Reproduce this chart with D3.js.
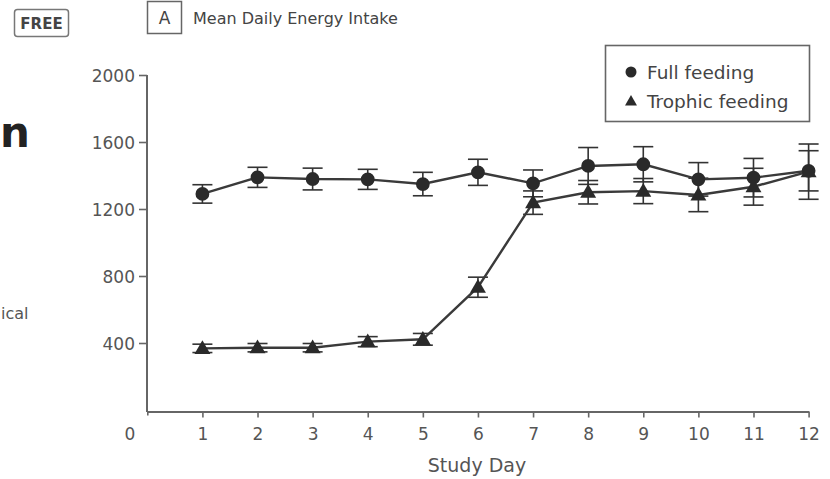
<!DOCTYPE html>
<html>
<head>
<meta charset="utf-8">
<script src="https://cdn.jsdelivr.net/npm/d3@7/dist/d3.min.js"></script>
<style>
  html, body { margin: 0; padding: 0; background: #fff; }
  svg { display: block; }
  text { font-family: "DejaVu Sans", "Liberation Sans", sans-serif; }
</style>
</head>
<body>
<svg id="chart" width="830" height="479"></svg>
<script>
// Study days and x tick values
const days = [1, 2, 3, 4, 5, 6, 7, 8, 9, 10, 11, 12];
const xTicks = [0, 1, 2, 3, 4, 5, 6, 7, 8, 9, 10, 11, 12];
const yTicks = [400, 800, 1200, 1600, 2000];

// Mean daily energy intake (kcal) and error (SEM) per study day
const fullMean    = [1290, 1389, 1379, 1377, 1349, 1419, 1353, 1457, 1467, 1377, 1387, 1428];
const fullErr     = [55, 60, 65, 60, 70, 78, 80, 110, 105, 100, 115, 120];
const trophicMean = [368, 372, 372, 408, 422, 733, 1238, 1300, 1307, 1284, 1333, 1423];
const trophicErr  = [25, 25, 25, 30, 35, 60, 70, 70, 75, 100, 110, 165];

const seriesNames = ["Full feeding", "Trophic feeding"];
const titleText = "Mean Daily Energy Intake";
const panelLetter = "A";
const xLabel = "Study Day";

const svg = d3.select("#chart");

const x = d3.scaleLinear().domain([0, 12]).range([147.3, 808.6]);
const y = d3.scaleLinear().domain([0, 2000]).range([410, 75]);

const axisColor = "#666";
const textColor = "#555";

// Page fragments around the figure
svg.append("rect").attr("x", 14.5).attr("y", 9.5).attr("width", 54).attr("height", 27)
  .attr("rx", 3).attr("fill", "#fff").attr("stroke", "#777").attr("stroke-width", 1.5);
svg.append("text").attr("x", 41.5).attr("y", 28.5).attr("text-anchor", "middle")
  .attr("font-family", "Liberation Sans, Arial, sans-serif")
  .attr("font-weight", "bold").attr("font-size", 15).attr("fill", "#444").text("FREE");
svg.append("text").attr("x", 0).attr("y", 147)
  .attr("font-family", "Liberation Sans, Arial, sans-serif")
  .attr("font-weight", "bold").attr("font-size", 42).attr("fill", "#222").text("n");
svg.append("text").attr("x", 1).attr("y", 319)
  .attr("font-size", 16).attr("fill", "#555").text("ical");

// Panel label and title
svg.append("rect").attr("x", 147.5).attr("y", 1.5).attr("width", 34).attr("height", 32)
  .attr("fill", "none").attr("stroke", "#666").attr("stroke-width", 1.5);
svg.append("text").attr("x", 164.5).attr("y", 24).attr("text-anchor", "middle")
  .attr("font-size", 17).attr("fill", "#444").text(panelLetter);
svg.append("text").attr("x", 193).attr("y", 24)
  .attr("font-size", 16).attr("fill", "#444").text(titleText);

// Axes
const yAxis = d3.axisLeft(y).tickValues(yTicks).tickFormat(d3.format("d"))
  .tickSize(8).tickPadding(4).tickSizeOuter(0);
const gy = svg.append("g").attr("transform", "translate(147,0)").call(yAxis);
gy.select(".domain").attr("stroke", axisColor).attr("stroke-width", 2)
  .attr("d", `M0,${y(2000)}V412`);
gy.selectAll(".tick line").attr("stroke", axisColor).attr("stroke-width", 1.6);
gy.selectAll(".tick text").attr("fill", textColor).attr("font-size", 17)
  .attr("font-family", "DejaVu Sans, sans-serif").attr("dy", "0.36em");

const xAxis = d3.axisBottom(x).tickValues(xTicks).tickFormat(d3.format("d"))
  .tickSize(6).tickPadding(10).tickSizeOuter(0);
const gx = svg.append("g").attr("transform", "translate(0,411.5)").call(xAxis);
gx.select(".domain").attr("stroke", axisColor).attr("stroke-width", 2);
gx.selectAll(".tick line").attr("stroke", axisColor).attr("stroke-width", 1.6);
gx.selectAll(".tick text").attr("fill", textColor).attr("font-size", 17)
  .attr("font-family", "DejaVu Sans, sans-serif");
gx.selectAll(".tick").filter(d => d === 0).select("text").attr("x", -18);
gx.selectAll(".tick").filter(d => d === 0).select("line").attr("y2", 4);

svg.append("text").attr("x", 477).attr("y", 472).attr("text-anchor", "middle")
  .attr("font-size", 19).attr("fill", textColor).text(xLabel);

// Series drawing
const series = [
  { name: seriesNames[0], mean: fullMean, err: fullErr, symbol: d3.symbolCircle },
  { name: seriesNames[1], mean: trophicMean, err: trophicErr, symbol: d3.symbolTriangle }
];

const line = d3.line().x(d => x(d.day)).y(d => y(d.v));
const ink = "#2a2a2a";
const capHalf = 10;

// Error bars and connecting lines first, markers on top
series.slice().reverse().forEach(s => {
  const pts = days.map((d, i) => ({ day: d, v: s.mean[i], e: s.err[i] }));
  const g = svg.append("g");
  const eb = g.selectAll(".eb").data(pts).enter().append("g").attr("class", "eb")
    .attr("stroke", "#333").attr("stroke-width", 1.6).attr("fill", "none");
  eb.append("line").attr("x1", d => x(d.day)).attr("x2", d => x(d.day))
    .attr("y1", d => y(d.v + d.e)).attr("y2", d => y(d.v - d.e));
  eb.append("line").attr("x1", d => x(d.day) - capHalf).attr("x2", d => x(d.day) + capHalf)
    .attr("y1", d => y(d.v + d.e)).attr("y2", d => y(d.v + d.e));
  eb.append("line").attr("x1", d => x(d.day) - capHalf).attr("x2", d => x(d.day) + capHalf)
    .attr("y1", d => y(d.v - d.e)).attr("y2", d => y(d.v - d.e));
  g.append("path").datum(pts).attr("d", line).attr("fill", "none")
    .attr("stroke", "#3a3a3a").attr("stroke-width", 2.4);
});

series.forEach(s => {
  const pts = days.map((d, i) => ({ day: d, v: s.mean[i] }));
  const size = s.symbol === d3.symbolCircle ? 150 : 110;
  svg.append("g").selectAll("path").data(pts).enter().append("path")
    .attr("transform", d => `translate(${x(d.day)},${y(d.v) + (s.symbol === d3.symbolTriangle ? 1 : 0)})`)
    .attr("d", d3.symbol(s.symbol, size)).attr("fill", ink);
});

// Legend
const lg = svg.append("g");
lg.append("rect").attr("x", 605.5).attr("y", 45.5).attr("width", 204).attr("height", 76)
  .attr("fill", "#fff").attr("stroke", "#666").attr("stroke-width", 1.6);
series.forEach((s, i) => {
  const cy = 72 + i * 29;
  const size = s.symbol === d3.symbolCircle ? 95 : 62;
  lg.append("path").attr("transform", `translate(631,${cy + (i ? 1 : 0)})`)
    .attr("d", d3.symbol(s.symbol, size)).attr("fill", ink);
  lg.append("text").attr("x", 647).attr("y", cy + 6.5)
    .attr("font-size", 18.5).attr("fill", "#444").text(s.name);
});
</script>
</body>
</html>
